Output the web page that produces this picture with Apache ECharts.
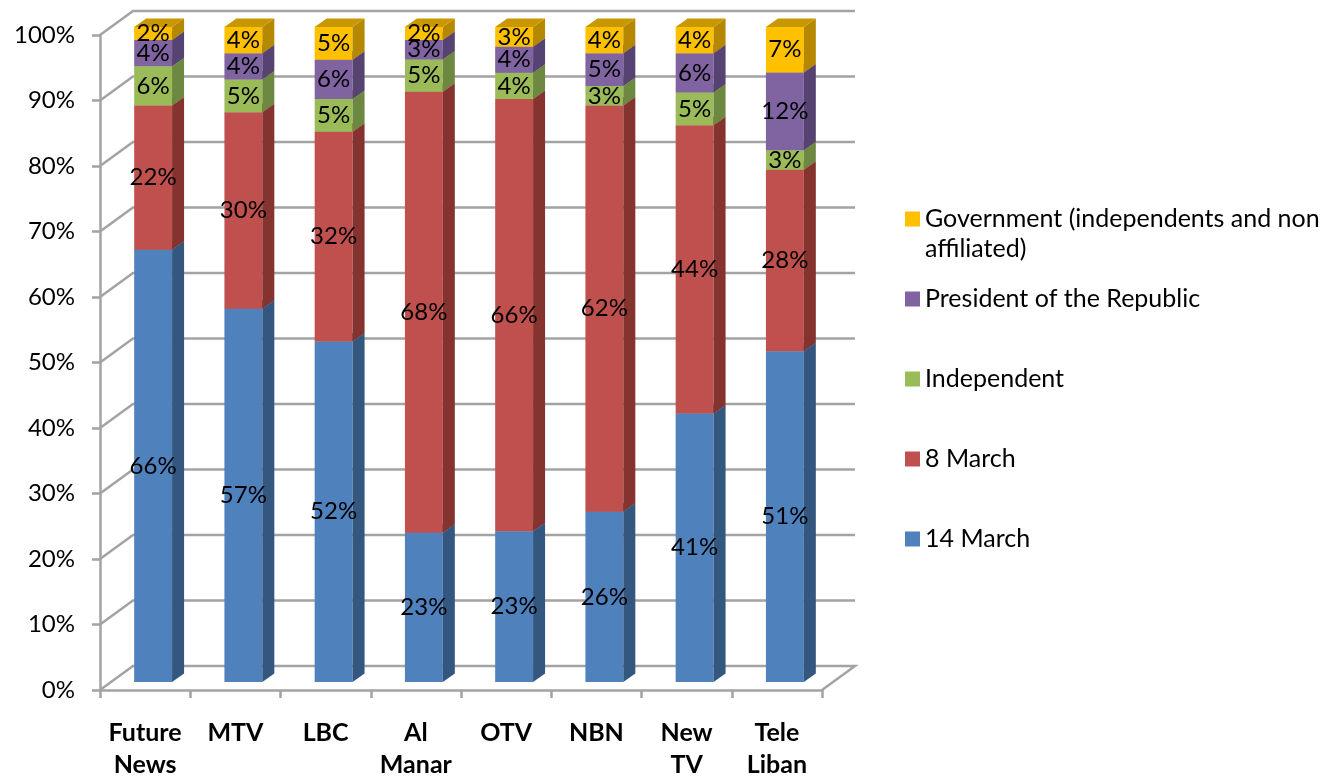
<!DOCTYPE html>
<html>
<head>
<meta charset="utf-8">
<script src="https://cdn.jsdelivr.net/npm/echarts@6/dist/echarts.min.js"></script>
<style>html,body{margin:0;padding:0;background:#fff}#c{width:1325px;height:778px}</style>
</head>
<body>
<div id="c"></div>
<script>
const categories = ['Future News', 'MTV', 'LBC', 'Al Manar', 'OTV', 'NBN', 'New TV', 'Tele Liban'];
const seriesNames = ['14 March', '8 March', 'Independent', 'President of the Republic', 'Government (independents and non affiliated)'];
const march14 = [66, 57, 52, 23, 23, 26, 41, 51];
const march8 = [22, 30, 32, 68, 66, 62, 44, 28];
const independent = [6, 5, 5, 5, 4, 3, 5, 3];
const president = [4, 4, 6, 3, 4, 5, 6, 12];
const government = [2, 4, 5, 2, 3, 4, 4, 7];
const gridLevels = [0, 10, 20, 30, 40, 50, 60, 70, 80, 90, 100];

const seriesValues = [march14, march8, independent, president, government];
const frontColors = ['#4F81BD', '#C0504D', '#9BBB59', '#8064A2', '#FFC000'];
const sideColors = ['#33577F', '#85332F', '#6D8840', '#574372', '#B58800'];
const topColors = ['#3E6898', '#9E3F3C', '#7E9C48', '#6A5389', '#C99800'];

const FONT = 'Lato, "Open Sans", sans-serif';
const DEPTH_X = 12, DEPTH_Y = -8.5;
const SHIFT_X = 8, SHIFT_Y = -8;
const WALL_X = 33, WALL_Y = -24;
const GRID_COLOR = '#A3A3A3';

// stacked 100% shares
const totals = categories.map((c, i) => seriesValues.reduce((s, arr) => s + arr[i], 0));
const stackData = seriesValues.map((arr, s) => arr.map((v, i) => {
  let base = 0;
  for (let k = 0; k < s; k++) base += seriesValues[k][i];
  return [i, base / totals[i] * 100, (base + v) / totals[i] * 100, v];
}));

const chart = echarts.init(document.getElementById('c'), null, {renderer: 'canvas'});

const barSeries = seriesNames.map((name, s) => ({
  name: name,
  type: 'custom',
  coordinateSystem: 'cartesian2d',
  itemStyle: {color: frontColors[s]},
  encode: {x: 0, y: [1, 2]},
  data: stackData[s],
  renderItem: function (params, api) {
    const cat = api.value(0), b = api.value(1), t = api.value(2), raw = api.value(3);
    const pb = api.coord([cat, b]);
    const pt = api.coord([cat, t]);
    const band = api.size([1, 0])[0];
    const w = band * 0.42;
    const cx = pb[0] + SHIFT_X;
    const xl = cx - w / 2, xr = cx + w / 2;
    const yb = pb[1] + SHIFT_Y, yt = pt[1] + SHIFT_Y;
    return {
      type: 'group',
      children: [
        {type: 'rect', shape: {x: xl, y: yt, width: w, height: yb - yt}, style: {fill: frontColors[s]}},
        {type: 'polygon', shape: {points: [[xr, yt], [xr + DEPTH_X, yt + DEPTH_Y], [xr + DEPTH_X, yb + DEPTH_Y], [xr, yb]]}, style: {fill: sideColors[s]}},
        {type: 'polygon', shape: {points: [[xl, yt], [xr, yt], [xr + DEPTH_X, yt + DEPTH_Y], [xl + DEPTH_X, yt + DEPTH_Y]]}, style: {fill: topColors[s]}},
        {type: 'text', z2: 100, style: {text: raw + '%', x: cx, y: (yt + yb) / 2, align: 'center', verticalAlign: 'middle', font: '24px ' + FONT, fill: '#000'}}
      ]
    };
  }
}));

const wallSeries = {
  name: 'wall',
  type: 'custom',
  coordinateSystem: 'cartesian2d',
  silent: true,
  encode: {x: 0, y: 1},
  data: gridLevels.map(v => [0, v]),
  renderItem: function (params, api) {
    const v = api.value(1);
    const p = api.coord([0, v]);
    const cs = params.coordSys;
    const left = cs.x, right = cs.x + cs.width, y = p[1];
    const pts = [[left, y], [left + WALL_X, y + WALL_Y], [right + WALL_X, y + WALL_Y]];
    if (v === 0) pts.push([right, y]);
    return {type: 'polyline', shape: {points: pts}, style: {stroke: GRID_COLOR, lineWidth: 2.5, fill: null}};
  }
};

const legendLabels = {};
legendLabels[seriesNames[4]] = '\nGovernment (independents and non\naffiliated)';

chart.setOption({
  animation: false,
  backgroundColor: '#fff',
  grid: {left: 100, right: 503, top: 35, bottom: 88, containLabel: false, outerBoundsMode: 'none'},
  legend: {
    orient: 'vertical',
    left: 900,
    top: 169,
    itemGap: -10,
    itemWidth: 15,
    itemHeight: 15,
    icon: 'rect',
    data: seriesNames.slice().reverse(),
    formatter: name => legendLabels[name] || ('\n' + name + '\n'),
    textStyle: {fontSize: 25, fontFamily: FONT, color: '#000', lineHeight: 30},
    selectedMode: false
  },
  xAxis: {
    type: 'category',
    data: categories,
    axisLine: {lineStyle: {color: GRID_COLOR, width: 2.5}},
    axisTick: {show: true, length: 8, lineStyle: {color: GRID_COLOR, width: 2.5}},
    axisLabel: {
      formatter: v => v.replace(' ', '\n'),
      fontSize: 25, fontWeight: 'bold', fontFamily: FONT, color: '#000',
      lineHeight: 32, margin: 27, interval: 0
    },
    splitLine: {show: false}
  },
  yAxis: {
    type: 'value',
    min: 0, max: 100, interval: 10,
    axisLine: {show: true, lineStyle: {color: GRID_COLOR, width: 2.5}},
    axisTick: {show: true, length: 8, lineStyle: {color: GRID_COLOR, width: 2.5}},
    axisLabel: {formatter: '{value}%', fontSize: 24, fontFamily: FONT, color: '#000', margin: 25},
    splitLine: {show: false}
  },
  series: [wallSeries].concat(barSeries)
});
</script>
</body>
</html>
